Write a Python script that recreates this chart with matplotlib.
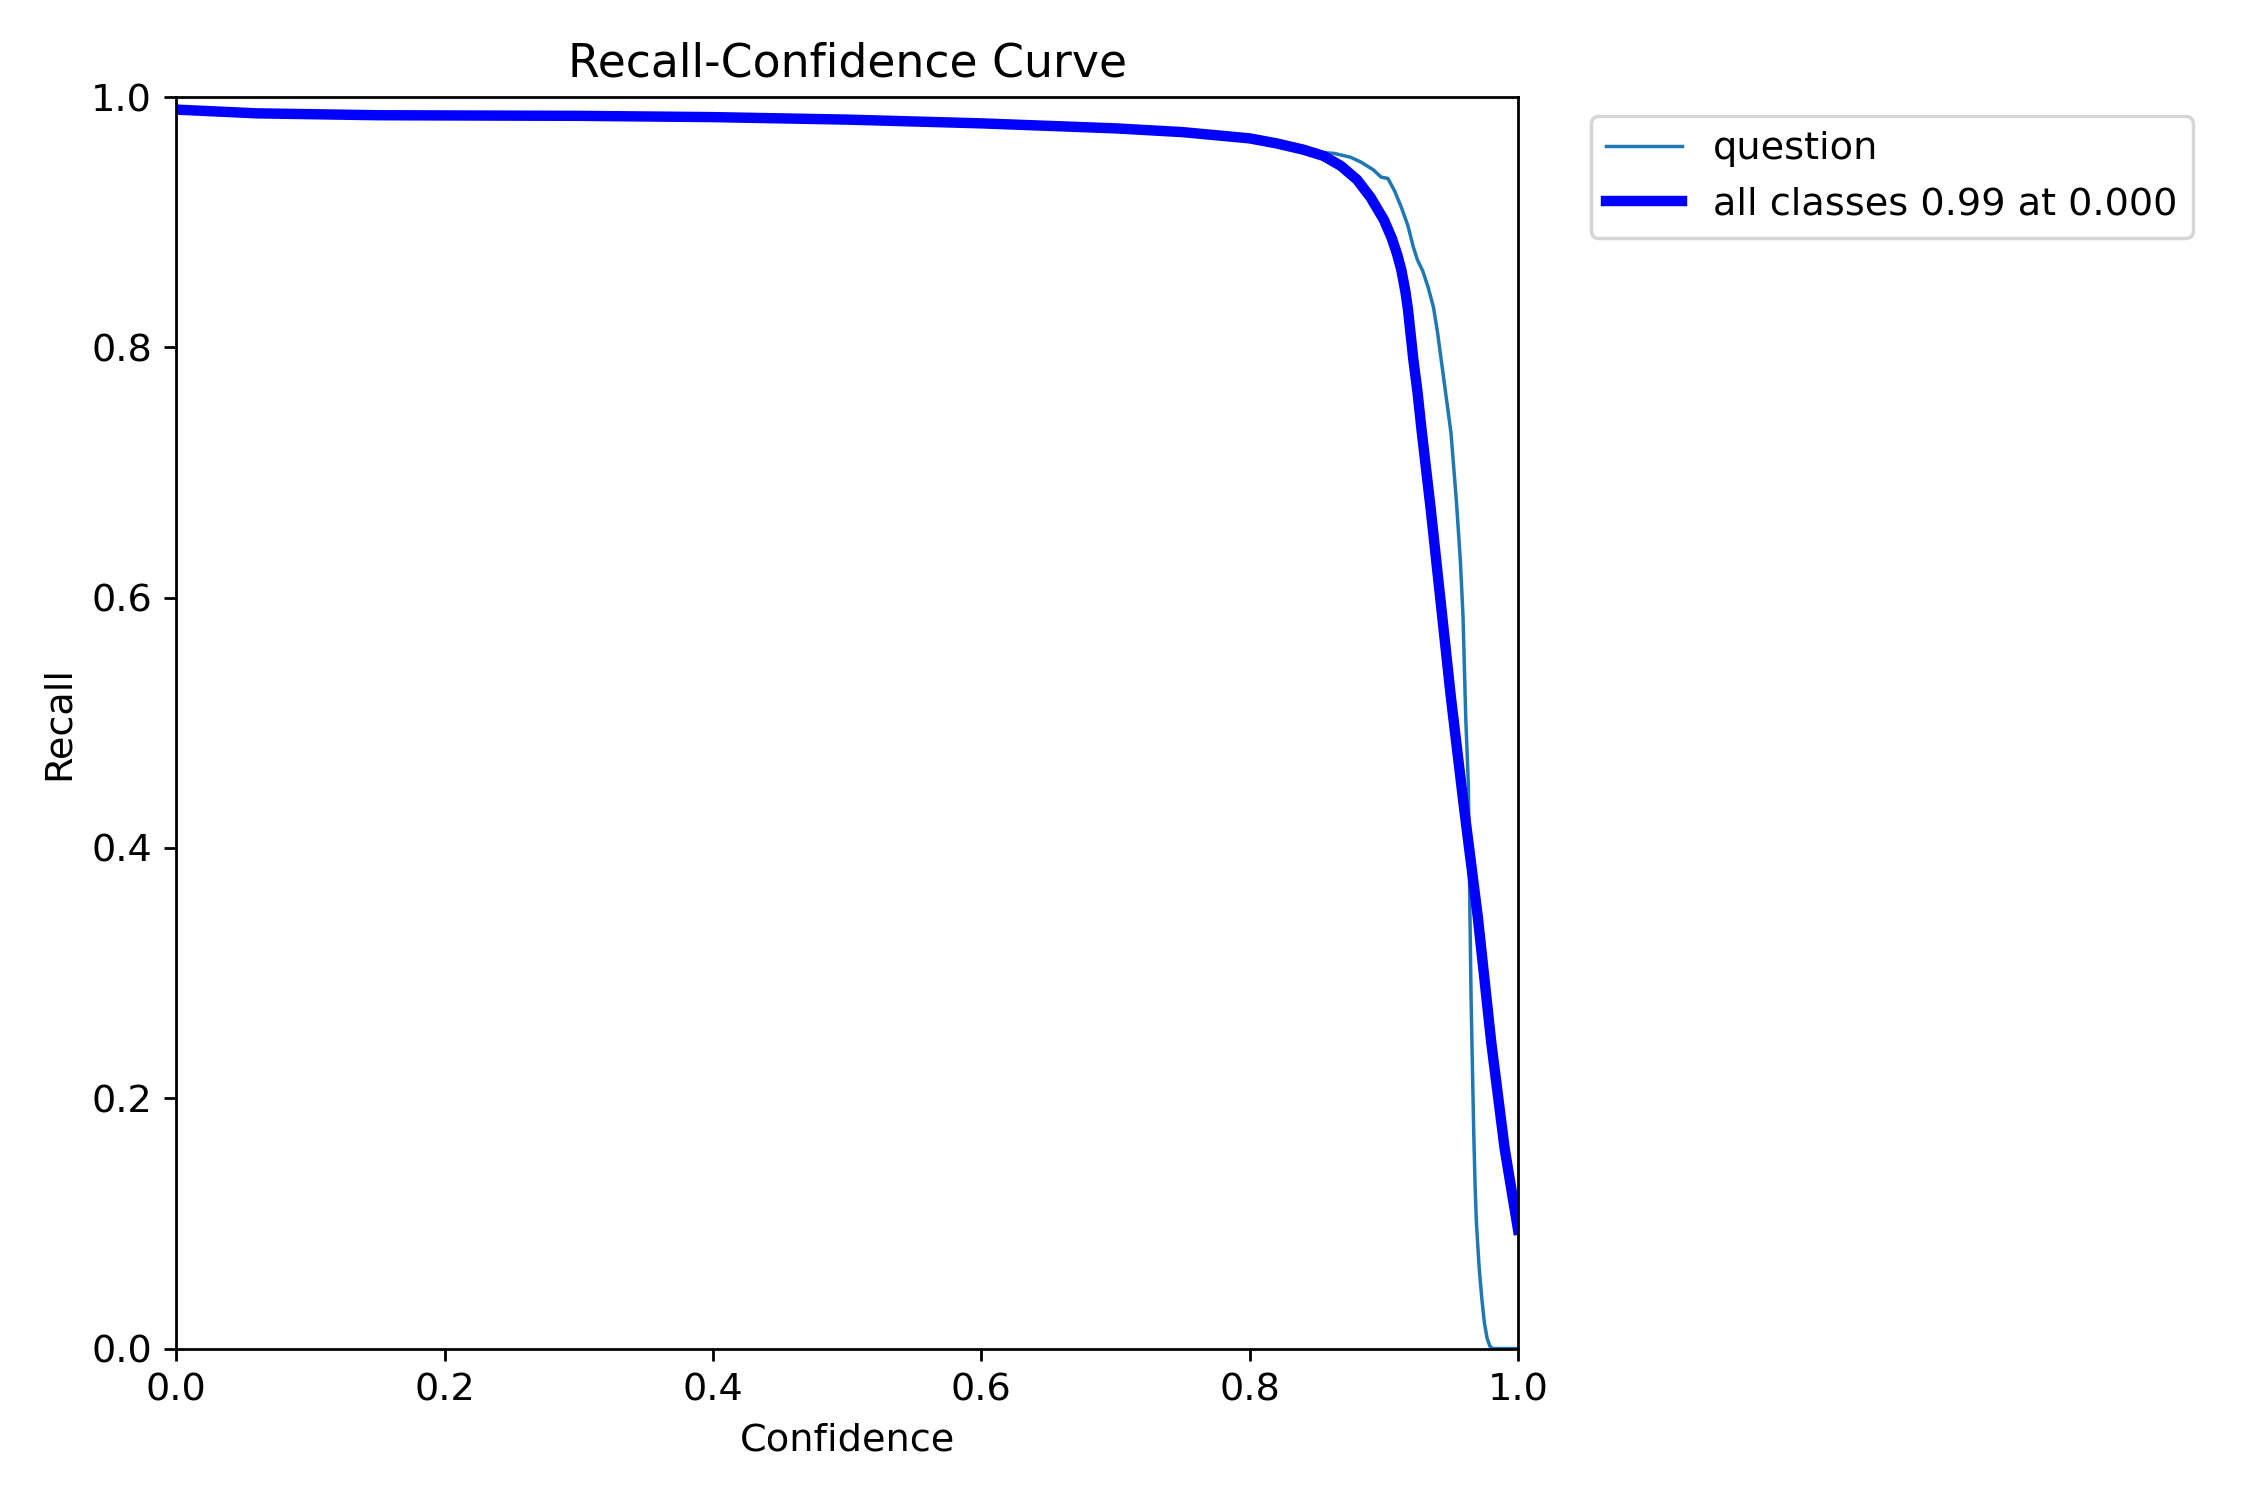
"""plot.py

Recall-Confidence curve for the single-class ("question") detector.
Thin line: per-class recall vs confidence threshold.
Thick blue line: all-classes curve (smoothed), best value 0.99 at 0.000.
"""
from __future__ import annotations

import matplotlib

matplotlib.use("Agg")
import matplotlib.pyplot as plt

# ---------------------------------------------------------------------------
# Data
# ---------------------------------------------------------------------------
CLASS_NAME = "question"

# per-class curve ("question")
class_conf = [
    0.0, 0.02, 0.06, 0.15, 0.3, 0.4, 0.5, 0.6, 0.7, 0.75, 0.8, 0.83,
    0.85, 0.863, 0.875, 0.883, 0.892, 0.898, 0.903, 0.908, 0.913, 0.918,
    0.922, 0.925, 0.929, 0.933, 0.937, 0.940, 0.945, 0.950, 0.954, 0.957,
    0.959, 0.961, 0.963, 0.964, 0.965, 0.966, 0.967, 0.968, 0.969, 0.971,
    0.973, 0.975, 0.977, 0.979, 0.981, 1.0,
]
class_recall = [
    0.991, 0.988, 0.987, 0.9855, 0.985, 0.984, 0.982, 0.979, 0.975, 0.972,
    0.967, 0.961, 0.956, 0.955, 0.952, 0.948, 0.942, 0.936, 0.935, 0.925,
    0.912, 0.897, 0.880, 0.870, 0.861, 0.848, 0.832, 0.812, 0.772, 0.732,
    0.678, 0.630, 0.585, 0.505, 0.450, 0.360, 0.280, 0.225, 0.172, 0.130,
    0.100, 0.065, 0.040, 0.020, 0.008, 0.002, 0.0, 0.0,
]

# all-classes curve (smoothed mean)
mean_conf = [
    0.0, 0.02, 0.06, 0.15, 0.3, 0.4, 0.5, 0.6, 0.65, 0.7, 0.75, 0.78,
    0.8, 0.82, 0.84, 0.855, 0.868, 0.88, 0.89, 0.9, 0.906, 0.91, 0.913,
    0.916, 0.918, 0.92, 0.922, 0.925, 0.928, 0.935, 0.942, 0.95, 0.96,
    0.97, 0.98, 0.99, 1.0,
]
mean_recall = [
    0.990, 0.989, 0.987, 0.9855, 0.985, 0.984, 0.982, 0.979, 0.977, 0.975,
    0.972, 0.969, 0.967, 0.963, 0.958, 0.953, 0.945, 0.934, 0.920, 0.902,
    0.887, 0.874, 0.862, 0.845, 0.830, 0.810, 0.790, 0.765, 0.735, 0.670,
    0.600, 0.520, 0.430, 0.345, 0.245, 0.160, 0.095,
]
BEST_VALUE = 0.99
BEST_CONF = 0.000

# ---------------------------------------------------------------------------
# Visual config
# ---------------------------------------------------------------------------
CFG = {
    "figsize": (9, 6),
    "dpi": 250,
    "font_size": 11,
    "class_color": "#1f77b4",
    "class_lw": 1,
    "mean_color": "blue",
    "mean_lw": 3,
    "xlabel": "Confidence",
    "ylabel": "Recall",
    "title": "Recall-Confidence Curve",
    "filename": "out.png",
}


def make_figure() -> None:
    cfg = CFG
    plt.rcParams.update({"font.size": cfg["font_size"]})
    fig, ax = plt.subplots(1, 1, figsize=cfg["figsize"], tight_layout=True)

    ax.plot(class_conf, class_recall, linewidth=cfg["class_lw"],
            color=cfg["class_color"], label=CLASS_NAME)
    ax.plot(mean_conf, mean_recall, linewidth=cfg["mean_lw"],
            color=cfg["mean_color"],
            label=f"all classes {BEST_VALUE:.2f} at {BEST_CONF:.3f}")

    ax.set_xlabel(cfg["xlabel"])
    ax.set_ylabel(cfg["ylabel"])
    ax.set_xlim(0, 1)
    ax.set_ylim(0, 1)
    ax.legend(bbox_to_anchor=(1.04, 1), loc="upper left")
    ax.set_title(cfg["title"])

    fig.savefig(cfg["filename"], dpi=cfg["dpi"])
    plt.close(fig)


if __name__ == "__main__":
    make_figure()
